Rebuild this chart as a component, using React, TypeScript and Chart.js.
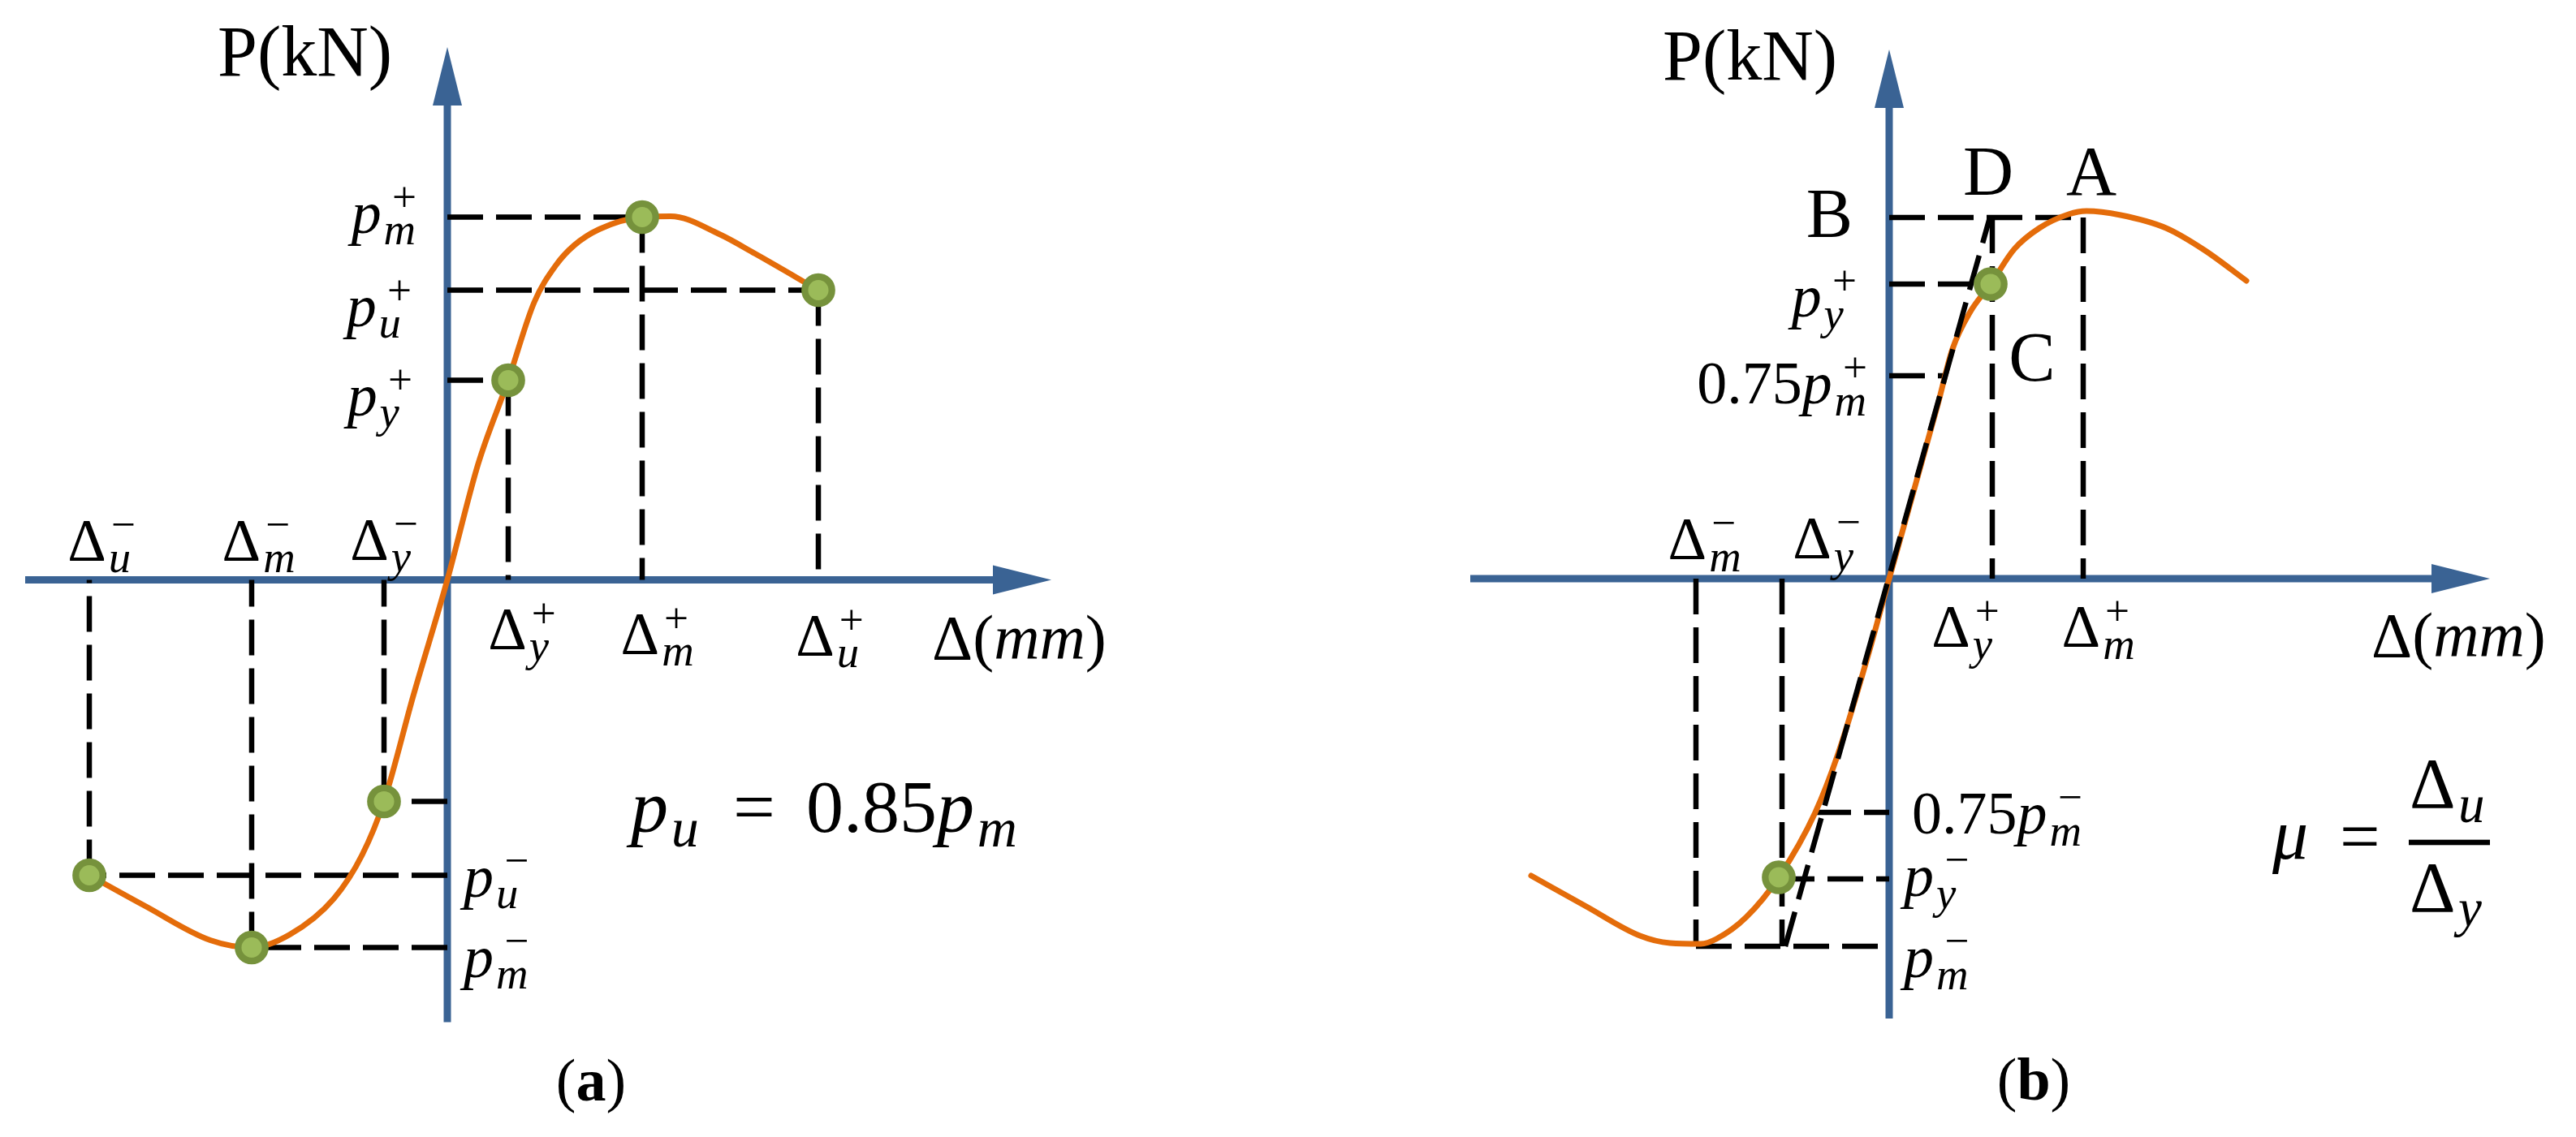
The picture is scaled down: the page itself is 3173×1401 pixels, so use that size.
import React, { useEffect, useRef } from "react";
import { Chart, registerables } from "chart.js";

Chart.register(...registerables);

const W = 3173;
const H = 1401;

// ---------------- Panel (a) data (schematic units: Δ in mm, P in kN) ----------------
const curveA_x = [-44.1, -37.2, -29.2, -24.1, -19.4, -14.0, -10.5, -7.8, -4.2, 0, 3.8, 7.5, 10.7, 13.4, 15.6, 18.7, 24.0, 27.5, 33.5, 37.9, 45.7];
const curveA_y = [-36.4, -40.2, -44.4, -45.3, -43.7, -39.3, -33.9, -27.3, -14.3, 0, 14.3, 24.6, 34.2, 38.8, 41.2, 43.2, 44.7, 44.8, 42.6, 40.2, 35.7];
// key points: Δy+, Δm+, Δu+, Δy−, Δm−, Δu−
const keyDeltaA = [7.5, 24.0, 45.7, -7.8, -24.1, -44.1];
const keyLoadA = [24.6, 44.7, 35.7, -27.3, -45.3, -36.4];

// ---------------- Panel (b) data ----------------
const curveB_x = [-44.1, -37.3, -30.7, -27.0, -23.2, -21.3, -17.6, -13.6, -9.1, -6.3, -2.5, 0, 6.0, 7.8, 10.0, 12.5, 15.4, 18.5, 22.1, 24.3, 28.5, 34.1, 38.8, 44.0];
const curveB_y = [-36.6, -40.4, -44.0, -44.9, -45.0, -44.4, -41.7, -36.8, -28.8, -21.6, -9.1, 0, 21.5, 28.3, 32.9, 36.3, 40.6, 43.2, 44.9, 45.3, 44.8, 43.2, 40.5, 36.7];
// yield points (C and its negative counterpart)
const yieldDeltaB = [12.5, -13.6];
const yieldLoadB = [36.3, -36.8];
// secant line O–D
const secantB_x = [-12.8, 12.4];
const secantB_y = [-45.3, 44.5];
// horizontal guides: level, from Δ, to Δ  (pm+, py+, 0.75pm+, pm−, py−, 0.75pm−)
const hLevelB = [44.5, 36.3, 25.0, -45.3, -37.0, -28.8];
const hFromB = [0, 0, 0, -23.8, -13.6, -9.1];
const hToB = [23.9, 10.1, 7.0, 0, 0, 0];
// vertical guides: Δ, from P, to P  (Δy+, Δm+, Δy−, Δm−)
const vAtB = [12.7, 23.9, -13.2, -23.8];
const vFromB = [44.5, 44.5, 0, 0];
const vToB = [0, 0, -45.3, -45.3];

// ---------------- styles ----------------
const AXIS_COLOR = "#3A6394";
const CURVE_COLOR = "#E46C0A";
const POINT_FILL = "#9BBB59";
const POINT_BORDER = "#76923C";
const SERIF = '"Liberation Serif", "Times New Roman", Times, serif';

type Tok = { s: string; it?: boolean; b?: boolean; sub?: string; sup?: string };
type Lab = { toks: Tok[]; vx?: number; vy?: number; dx: number; dy: number; size: number; align: "left" | "center" | "right" };

function fnt(size: number, it?: boolean, b?: boolean) {
  return `${it ? "italic " : ""}${b ? "bold " : ""}${size}px ${SERIF}`;
}

function drawToks(ctx: CanvasRenderingContext2D, toks: Tok[], x: number, y: number, size: number, align: string) {
  const subS = size * 0.74;
  const supS = size * 0.72;
  const ms = toks.map((t) => {
    ctx.font = fnt(size, t.it, t.b);
    const w = ctx.measureText(t.s).width;
    let extra = 0;
    if (t.sub || t.sup) {
      ctx.font = fnt(subS, true);
      const ws = t.sub ? ctx.measureText(t.sub).width + size * 0.05 : 0;
      ctx.font = fnt(supS, false);
      const wp = t.sup ? ctx.measureText(t.sup).width + size * (t.it ? 0.18 : 0.08) : 0;
      extra = Math.max(ws, wp);
    }
    return { w, extra };
  });
  const total = ms.reduce((a, m) => a + m.w + m.extra, 0);
  let cx = align === "left" ? x : align === "right" ? x - total : x - total / 2;
  ctx.save();
  ctx.fillStyle = "#000";
  ctx.textAlign = "left";
  ctx.textBaseline = "alphabetic";
  toks.forEach((t, i) => {
    ctx.font = fnt(size, t.it, t.b);
    ctx.fillText(t.s, cx, y);
    const ex = cx + ms[i].w;
    if (t.sub) {
      ctx.font = fnt(subS, true);
      ctx.fillText(t.sub, ex + size * 0.04, y + size * 0.2);
    }
    if (t.sup) {
      ctx.font = fnt(supS, false);
      ctx.fillText(t.sup, ex + size * (t.it ? 0.18 : 0.08), y - size * 0.36);
    }
    cx = ex + ms[i].extra;
  });
  ctx.restore();
}

const pts = (xs: number[], ys: number[]) => xs.map((x, i) => ({ x, y: ys[i] }));

function guide(a: { x: number; y: number }, b: { x: number; y: number }, order = 3) {
  return {
    data: [a, b],
    showLine: true,
    borderColor: "#000",
    borderWidth: 6.5,
    borderDash: [44, 16],
    borderCapStyle: "butt",
    pointRadius: 0,
    pointHoverRadius: 0,
    fill: false,
    clip: false,
    order,
  };
}

function curveDs(xs: number[], ys: number[], order = 2) {
  return {
    data: pts(xs, ys),
    showLine: true,
    borderColor: CURVE_COLOR,
    borderWidth: 7,
    cubicInterpolationMode: "monotone",
    borderCapStyle: "round",
    pointRadius: 0,
    pointHoverRadius: 0,
    fill: false,
    clip: false,
    order,
  };
}

function pointDs(xs: number[], ys: number[]) {
  return {
    data: pts(xs, ys),
    showLine: false,
    pointRadius: 16.7,
    pointHoverRadius: 16.7,
    pointBorderWidth: 8.3,
    pointBackgroundColor: POINT_FILL,
    pointBorderColor: POINT_BORDER,
    clip: false,
    order: 0,
  };
}

const axesPlugin = {
  id: "arrowAxes",
  beforeDatasetsDraw(chart: any) {
    const ctx = chart.ctx as CanvasRenderingContext2D;
    const xs = chart.scales.x;
    const ys = chart.scales.y;
    const x0 = xs.getPixelForValue(0);
    const y0 = ys.getPixelForValue(0);
    const left = xs.getPixelForValue(xs.min);
    const right = xs.getPixelForValue(xs.max);
    const top = ys.getPixelForValue(ys.max);
    const bottom = ys.getPixelForValue(ys.min);
    const head = 72;
    const half = 18;
    ctx.save();
    ctx.strokeStyle = AXIS_COLOR;
    ctx.fillStyle = AXIS_COLOR;
    ctx.lineWidth = 9;
    ctx.lineCap = "butt";
    ctx.beginPath();
    ctx.moveTo(left, y0);
    ctx.lineTo(right - head + 4, y0);
    ctx.moveTo(x0, bottom);
    ctx.lineTo(x0, top + head - 4);
    ctx.stroke();
    ctx.beginPath();
    ctx.moveTo(right, y0);
    ctx.lineTo(right - head, y0 - half);
    ctx.lineTo(right - head, y0 + half);
    ctx.closePath();
    ctx.fill();
    ctx.beginPath();
    ctx.moveTo(x0, top);
    ctx.lineTo(x0 - half, top + head);
    ctx.lineTo(x0 + half, top + head);
    ctx.closePath();
    ctx.fill();
    ctx.restore();
  },
};

function labelsPlugin(labels: Lab[], extra?: (ctx: CanvasRenderingContext2D, x0: number, y0: number) => void) {
  return {
    id: "mathLabels",
    afterDraw(chart: any) {
      const ctx = chart.ctx as CanvasRenderingContext2D;
      const xs = chart.scales.x;
      const ys = chart.scales.y;
      const x0 = xs.getPixelForValue(0);
      const y0 = ys.getPixelForValue(0);
      labels.forEach((l) => {
        const ax = l.vx === undefined ? x0 : xs.getPixelForValue(l.vx);
        const ay = l.vy === undefined ? y0 : ys.getPixelForValue(l.vy);
        drawToks(ctx, l.toks, ax + l.dx, ay + l.dy, l.size, l.align);
      });
      if (extra) extra(ctx, x0, y0);
    },
  };
}

// ---------------- scale bounds / layout ----------------
const A_X = [-52.0, 74.4];
const A_Y = [-54.5, 65.65];
const B_X = [-51.6, 74.0];
const B_Y = [-54.2, 65.2];

const M = 74; // math label size
const sub = (base: string, s: string, sup?: string, it = true): Tok => ({ s: base, it, sub: s, sup });

const labelsA: Lab[] = [
  { toks: [{ s: "P(kN)" }], vy: A_Y[1], dx: -283, dy: 35, size: 88, align: "left" },
  { toks: [sub("p", "m", "+")], vy: keyLoadA[1], dx: -38, dy: 19, size: M, align: "right" },
  { toks: [sub("p", "u", "+")], vy: keyLoadA[2], dx: -44, dy: 44, size: M, align: "right" },
  { toks: [sub("p", "y", "+")], vy: keyLoadA[0], dx: -43, dy: 43, size: M, align: "right" },
  { toks: [sub("p", "u", "−")], vy: keyLoadA[5], dx: 20, dy: 26, size: M, align: "left" },
  { toks: [sub("p", "m", "−")], vy: keyLoadA[4], dx: 20, dy: 36, size: M, align: "left" },
  { toks: [sub("Δ", "u", "−", false)], vx: keyDeltaA[5], dx: 15, dy: -24, size: M, align: "center" },
  { toks: [sub("Δ", "m", "−", false)], vx: keyDeltaA[4], dx: 9, dy: -24, size: M, align: "center" },
  { toks: [sub("Δ", "y", "−", false)], vx: keyDeltaA[3], dx: 0, dy: -25, size: M, align: "center" },
  { toks: [sub("Δ", "y", "+", false)], vx: keyDeltaA[0], dx: 17, dy: 85, size: M, align: "center" },
  { toks: [sub("Δ", "m", "+", false)], vx: keyDeltaA[1], dx: 19, dy: 91, size: M, align: "center" },
  { toks: [sub("Δ", "u", "+", false)], vx: keyDeltaA[2], dx: 14, dy: 93, size: M, align: "center" },
  { toks: [{ s: "Δ(" }, { s: "mm", it: true }, { s: ")" }], dx: 597, dy: 97, size: 78, align: "left" },
  { toks: [sub("p", "u")], dx: 226, dy: 310, size: 92, align: "left" },
  { toks: [{ s: "=" }], dx: 352, dy: 310, size: 92, align: "left" },
  { toks: [{ s: "0.85" }, sub("p", "m")], dx: 442, dy: 310, size: 92, align: "left" },
  { toks: [{ s: "(" }, { s: "a", b: true }, { s: ")" }], dx: 177, dy: 641, size: 74, align: "center" },
];

const labelsB: Lab[] = [
  { toks: [{ s: "P(kN)" }], vy: B_Y[1], dx: -279, dy: 37, size: 88, align: "left" },
  { toks: [{ s: "B" }], vy: hLevelB[0], dx: -45, dy: 24, size: 86, align: "right" },
  { toks: [{ s: "D" }], vx: vAtB[0], vy: hLevelB[0], dx: -5, dy: -28, size: 86, align: "center" },
  { toks: [{ s: "A" }], vx: vAtB[1], vy: hLevelB[0], dx: 10, dy: -28, size: 86, align: "center" },
  { toks: [{ s: "C" }], vx: vAtB[0], vy: hLevelB[1], dx: 49, dy: 119, size: 86, align: "center" },
  { toks: [sub("p", "y", "+")], vy: hLevelB[1], dx: -40, dy: 40, size: M, align: "right" },
  { toks: [{ s: "0.75" }, sub("p", "m", "+")], vy: hLevelB[2], dx: -27, dy: 34, size: M, align: "right" },
  { toks: [{ s: "0.75" }, sub("p", "m", "−")], vy: hLevelB[5], dx: 28, dy: 26, size: M, align: "left" },
  { toks: [sub("p", "y", "−")], vy: hLevelB[4], dx: 18, dy: 21, size: M, align: "left" },
  { toks: [sub("p", "m", "−")], vy: hLevelB[3], dx: 18, dy: 38, size: M, align: "left" },
  { toks: [sub("Δ", "m", "−", false)], vx: vAtB[3], dx: 11, dy: -24, size: M, align: "center" },
  { toks: [sub("Δ", "y", "−", false)], vx: vAtB[2], dx: 55, dy: -25, size: M, align: "center" },
  { toks: [sub("Δ", "y", "+", false)], vx: vAtB[0], dx: -33, dy: 84, size: M, align: "center" },
  { toks: [sub("Δ", "m", "+", false)], vx: vAtB[1], dx: 19, dy: 84, size: M, align: "center" },
  { toks: [{ s: "Δ(" }, { s: "mm", it: true }, { s: ")" }], dx: 594, dy: 96, size: 78, align: "left" },
  { toks: [{ s: "μ", it: true }], dx: 472, dy: 345, size: 88, align: "left" },
  { toks: [{ s: "=" }], dx: 555, dy: 347, size: 88, align: "left" },
  { toks: [sub("Δ", "u", undefined, false)], dx: 641, dy: 282, size: 88, align: "left" },
  { toks: [sub("Δ", "y", undefined, false)], dx: 641, dy: 410, size: 88, align: "left" },
  { toks: [{ s: "(" }, { s: "b", b: true }, { s: ")" }], dx: 178, dy: 642, size: 74, align: "center" },
];

function fractionBar(ctx: CanvasRenderingContext2D, x0: number, y0: number) {
  ctx.save();
  ctx.fillStyle = "#000";
  ctx.fillRect(x0 + 640, y0 + 325 - 3.3, 100, 6.6);
  ctx.restore();
}

function baseOptions(xr: number[], yr: number[], padding: any) {
  return {
    animation: false,
    responsive: false,
    maintainAspectRatio: false,
    devicePixelRatio: 1,
    events: [],
    layout: { padding },
    scales: {
      x: { type: "linear", min: xr[0], max: xr[1], display: false },
      y: { type: "linear", min: yr[0], max: yr[1], display: false },
    },
    plugins: { legend: { display: false }, tooltip: { enabled: false } },
  };
}

function makeA(): any {
  const guides: any[] = [];
  keyDeltaA.forEach((d, i) => {
    const p = keyLoadA[i];
    guides.push(guide({ x: 0, y: p }, { x: d, y: p }));
    guides.push(guide({ x: d, y: p }, { x: d, y: 0 }));
  });
  return {
    type: "scatter",
    data: {
      datasets: [...guides, curveDs(curveA_x, curveA_y, 2), pointDs(keyDeltaA, keyLoadA)],
    },
    options: baseOptions(A_X, A_Y, { left: 31, right: 405, top: 58, bottom: 141.5 }),
    plugins: [axesPlugin, labelsPlugin(labelsA)],
  };
}

function makeB(): any {
  const guides: any[] = [];
  hLevelB.forEach((lv, i) => guides.push(guide({ x: hFromB[i], y: lv }, { x: hToB[i], y: lv })));
  vAtB.forEach((vx, i) => guides.push(guide({ x: vx, y: vFromB[i] }, { x: vx, y: vToB[i] })));
  const secant = guide({ x: secantB_x[0], y: secantB_y[0] }, { x: secantB_x[1], y: secantB_y[1] }, 1);
  return {
    type: "scatter",
    data: {
      datasets: [...guides, curveDs(curveB_x, curveB_y, 2), secant, pointDs(yieldDeltaB, yieldLoadB)],
    },
    options: baseOptions(B_X, B_Y, { left: 111, right: 106, top: 61, bottom: 146 }),
    plugins: [axesPlugin, labelsPlugin(labelsB, fractionBar)],
  };
}

function ChartCanvas({ left, width, make }: { left: number; width: number; make: () => any }) {
  const ref = useRef<HTMLCanvasElement | null>(null);
  useEffect(() => {
    if (!ref.current) return;
    const chart = new Chart(ref.current, make());
    return () => chart.destroy();
  }, []);
  return (
    <canvas
      ref={ref}
      width={width}
      height={H}
      style={{ position: "absolute", left, top: 0, width, height: H, display: "block" }}
    />
  );
}

export default function App() {
  return (
    <div style={{ position: "fixed", left: 0, top: 0, width: W, height: H, background: "#fff", overflow: "hidden" }}>
      <ChartCanvas left={0} width={1700} make={makeA} />
      <ChartCanvas left={1700} width={1473} make={makeB} />
    </div>
  );
}
